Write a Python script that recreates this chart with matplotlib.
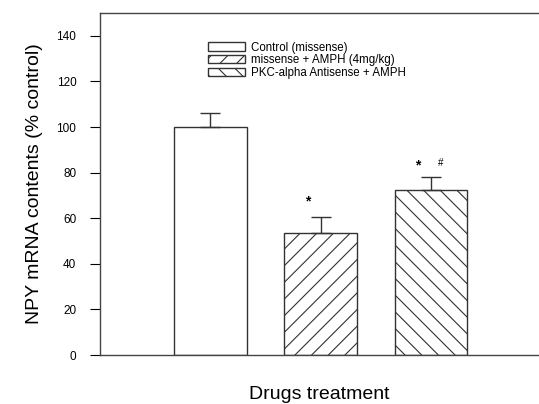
import numpy as np
import matplotlib
matplotlib.use("Agg")
import matplotlib.pyplot as plt

plt.rcParams['font.family'] = ['Liberation Sans', 'DejaVu Sans']
plt.rcParams['hatch.linewidth'] = 0.8

groups = ['Control (missense)', 'missense + AMPH (4mg/kg)', 'PKC-alpha Antisense + AMPH']
means = [100.0, 53.3, 72.3]
errs = [6.3, 7.4, 5.6]
hatches = ['', '//', '\\\\']
positions = [1, 2, 3]

fig = plt.figure(figsize=(5.39, 4.04), dpi=100)
ax = fig.add_axes([100 / 539, 49 / 404, 438 / 539, 342 / 404])

for x, m, e, h, lab in zip(positions, means, errs, hatches, groups):
    ax.bar(x, m, width=0.66, facecolor='white', edgecolor='#333333',
           linewidth=1.0, hatch=h, label=lab, zorder=2)
    ax.errorbar(x, m, yerr=[[0], [e]], fmt='none', ecolor='#333333',
                elinewidth=1.0, capsize=7, capthick=1.0, zorder=3)

# significance marks
ax.text(1.88, 67.5, '*', ha='center', va='center', fontsize=10, fontweight='bold')
ax.text(2.88, 83.0, '*', ha='center', va='center', fontsize=10, fontweight='bold')
ax.text(3.09, 84.0, '#', ha='center', va='center', fontsize=7)

ax.set_xlim(0, 3.97)
ax.set_ylim(0, 150)
ax.set_yticks(np.arange(0, 141, 20))
ax.set_xticks([])
ax.tick_params(axis='y', direction='out', length=7, width=0.8, labelsize=8.5, pad=10)
for s in ['left', 'bottom', 'top']:
    ax.spines[s].set_color('#444444')
    ax.spines[s].set_linewidth(1.0)
ax.spines['right'].set_visible(False)

ax.set_ylabel('NPY mRNA contents (% control)', fontsize=14, labelpad=10)
ax.set_xlabel('Drugs treatment', fontsize=14, labelpad=22)

ax.legend(loc='upper left', bbox_to_anchor=(0.245, 0.92), frameon=False,
          fontsize=8.3, handlelength=3.2, handleheight=0.7, labelspacing=0.08,
          handletextpad=0.5, borderpad=0.1, borderaxespad=0.0)

plt.savefig('out.png', dpi=100)
